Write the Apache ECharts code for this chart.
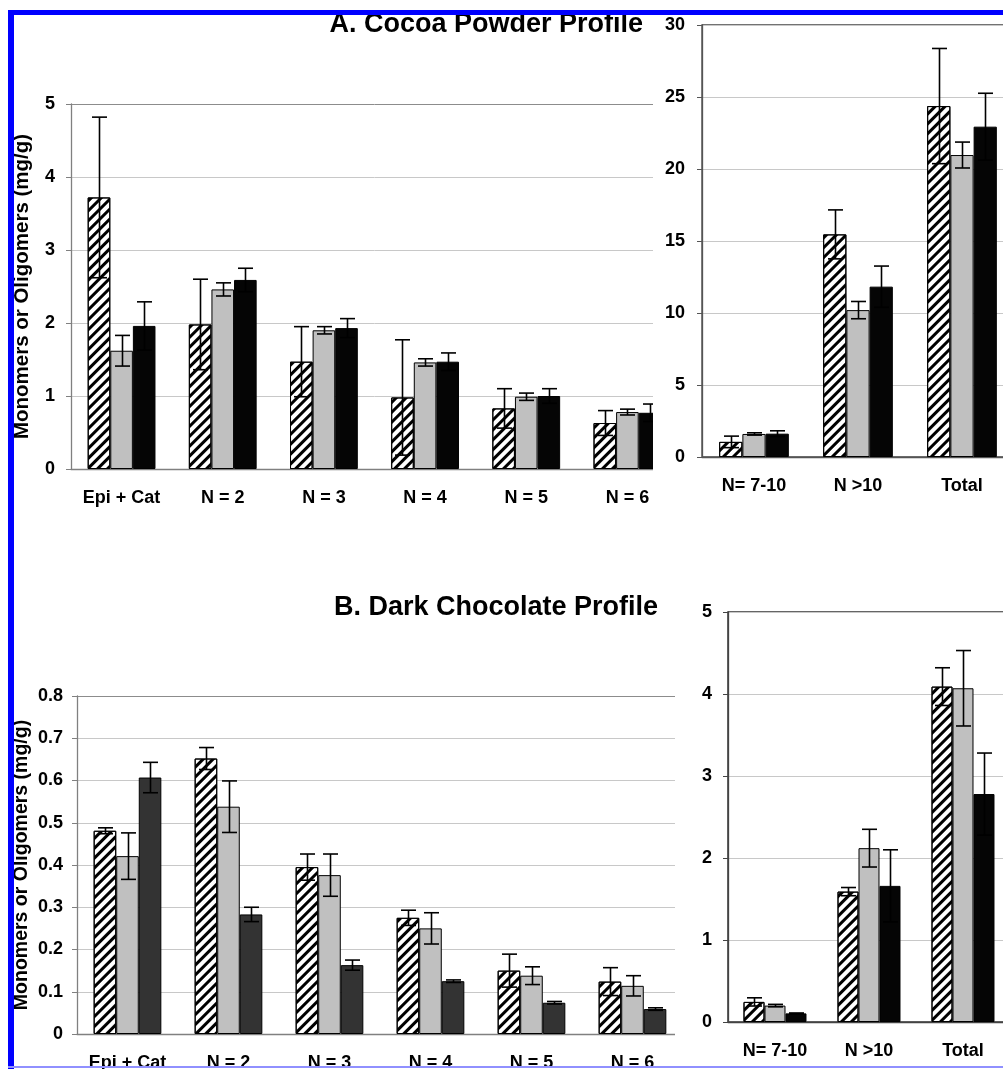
<!DOCTYPE html>
<html><head><meta charset="utf-8">
<script src="https://cdn.jsdelivr.net/npm/echarts@6/dist/echarts.min.js"></script>
<style>html,body{margin:0;padding:0;background:#fff}#c{width:1003px;height:1069px}</style>
</head><body><div id="c"></div><script>
// ---- categories ----
const catsMain = ['Epi + Cat', 'N = 2', 'N = 3', 'N = 4', 'N = 5', 'N = 6'];
const catsAgg = ['N= 7-10', 'N >10', 'Total'];
// ---- A. Cocoa powder, monomers to hexamers (mg/g) ----
const cocoaHatch = [3.72, 1.98, 1.47, 0.98, 0.83, 0.63];
const cocoaHatchErr = [1.10, 0.62, 0.48, 0.79, 0.27, 0.17];
const cocoaGray = [1.62, 2.46, 1.90, 1.46, 0.99, 0.78];
const cocoaGrayErr = [0.21, 0.09, 0.05, 0.05, 0.05, 0.04];
const cocoaBlack = [1.96, 2.59, 1.93, 1.47, 1.00, 0.77];
const cocoaBlackErr = [0.33, 0.16, 0.13, 0.12, 0.10, 0.12];
// ---- A. Cocoa powder, larger oligomers and total ----
const cocoaAggHatch = [1.05, 15.46, 24.37];
const cocoaAggHatchErr = [0.40, 1.70, 4.00];
const cocoaAggGray = [1.60, 10.20, 20.97];
const cocoaAggGrayErr = [0.08, 0.60, 0.90];
const cocoaAggBlack = [1.62, 11.83, 22.94];
const cocoaAggBlackErr = [0.20, 1.43, 2.32];
// ---- B. Dark chocolate, monomers to hexamers ----
const darkHatch = [0.481, 0.652, 0.395, 0.275, 0.150, 0.124];
const darkHatchErr = [0.007, 0.026, 0.031, 0.018, 0.039, 0.033];
const darkGray = [0.421, 0.538, 0.376, 0.250, 0.138, 0.114];
const darkGrayErr = [0.055, 0.061, 0.050, 0.037, 0.021, 0.024];
const darkBlack = [0.607, 0.283, 0.163, 0.125, 0.074, 0.059];
const darkBlackErr = [0.036, 0.017, 0.012, 0.003, 0.003, 0.003];
// ---- B. Dark chocolate, larger oligomers and total ----
const darkAggHatch = [0.245, 1.59, 4.09];
const darkAggHatchErr = [0.05, 0.05, 0.23];
const darkAggGray = [0.20, 2.12, 4.07];
const darkAggGrayErr = [0.015, 0.23, 0.46];
const darkAggBlack = [0.105, 1.66, 2.78];
const darkAggBlackErr = [0.005, 0.44, 0.50];
// ---- axis ticks ----
const yTicksA = {min: 0, max: 5, interval: 1};
const yTicksAR = {min: 0, max: 30, interval: 5};
const yTicksB = {min: 0, max: 0.8, interval: 0.1};
const yTicksBR = {min: 0, max: 5, interval: 1};
const yName = 'Monomers or Oligomers (mg/g)';

const FONT = '"Liberation Sans", Arial, sans-serif';
const GAP = 0.33;

const hatchStyle = {
  color: '#ffffff', borderColor: '#000', borderWidth: 1,
  decal: { symbol: 'rect', symbolSize: 1, color: '#000', dashArrayX: [1, 0], dashArrayY: [2.2, 3.8], rotation: -Math.PI / 4 }
};
const grayStyle = { color: '#c0c0c0', borderColor: '#000', borderWidth: 1 };
const blackStyle = { color: '#050505', borderColor: '#000', borderWidth: 1 };
const darkStyle = { color: '#333333', borderColor: '#000', borderWidth: 1 };

function errRender(params, api) {
  const cat = api.value(0), val = api.value(1), err = api.value(2), si = api.value(3);
  const catW = api.size([1, 0])[0];
  const bw = catW * (1 - GAP) / 3;
  const c = api.coord([cat, val]);
  const x = Math.round(c[0] + (si - 1) * bw) + 0.5;
  const yT = api.coord([cat, val + err])[1];
  const yB = api.coord([cat, val - err])[1];
  const cap = 7.5;
  const ls = { stroke: '#000', lineWidth: 1.6 };
  return { type: 'group', children: [
    { type: 'line', shape: { x1: x, y1: yT, x2: x, y2: yB }, style: ls },
    { type: 'line', shape: { x1: x - cap, y1: yT, x2: x + cap, y2: yT }, style: ls },
    { type: 'line', shape: { x1: x - cap, y1: yB, x2: x + cap, y2: yB }, style: ls }
  ]};
}

function panel(idx, zl, vals, errs, styles) {
  const s = [];
  vals.forEach((v, i) => {
    s.push({ type: 'bar', xAxisIndex: idx, yAxisIndex: idx, data: v, itemStyle: styles[i],
      barGap: '0%', barCategoryGap: (GAP * 100) + '%', zlevel: zl, z: 3, animation: false });
  });
  const ed = [];
  vals.forEach((v, i) => v.forEach((val, k) => ed.push([k, val, errs[i][k], i])));
  s.push({ type: 'custom', xAxisIndex: idx, yAxisIndex: idx, data: ed, renderItem: errRender,
    zlevel: zl, z: 4, clip: false, animation: false, silent: true });
  return s;
}

function xAx(idx, cats, zl, lineColor) {
  return { type: 'category', gridIndex: idx, data: cats, zlevel: zl, z: 1,
    axisLine: { lineStyle: { color: lineColor, width: 1.3 } },
    axisTick: { length: 6, lineStyle: { color: lineColor } },
    axisLabel: { margin: 20, color: '#000', fontSize: 18, fontWeight: 'bold', fontFamily: FONT, interval: 0 },
    splitLine: { show: false } };
}
function yAxis(idx, t, zl, lineColor, gridColor, labelMargin, name, nameGap, nameSize) {
  const o = { type: 'value', gridIndex: idx, min: t.min, max: t.max, interval: t.interval, zlevel: zl, z: 1,
    axisLine: { show: true, lineStyle: { color: lineColor, width: 1.3 } },
    axisTick: { show: true, length: 5, lineStyle: { color: lineColor } },
    axisLabel: { margin: labelMargin, color: '#000', fontSize: 18, fontWeight: 'bold', fontFamily: FONT },
    splitLine: { show: true, lineStyle: { color: gridColor, width: 1 } } };
  if (name) {
    o.name = name; o.nameLocation = 'middle'; o.nameGap = nameGap; o.nameMoveOverlap = false;
    o.nameTextStyle = { fontSize: nameSize, fontWeight: 'bold', color: '#000', fontFamily: FONT };
  }
  return o;
}

const L = '#c8c8c8', D = '#8c8c8c';
const chart = echarts.init(document.getElementById('c'), null, { renderer: 'canvas' });
const option = {
  backgroundColor: '#fff',
  animation: false,
  title: [
    { text: 'A. Cocoa Powder Profile', right: 360, top: 11, padding: 0,
      textStyle: { fontSize: 27, fontWeight: 'bold', color: '#000', fontFamily: FONT } },
    { text: 'B. Dark Chocolate Profile', right: 345, top: 594, padding: 0,
      textStyle: { fontSize: 27, fontWeight: 'bold', color: '#000', fontFamily: FONT } }
  ],
  grid: [
    { left: 71, top: 104, width: 607, height: 365, zlevel: 0, outerBoundsMode: 'none' },
    { left: 702, top: 25, width: 312, height: 432, zlevel: 1, show: true, borderColor: '#444', borderWidth: 1.3, backgroundColor: 'transparent', outerBoundsMode: 'none' },
    { left: 77, top: 696, width: 606, height: 338, zlevel: 0, outerBoundsMode: 'none' },
    { left: 728, top: 612, width: 282, height: 410, zlevel: 1, show: true, borderColor: '#333', borderWidth: 1.5, backgroundColor: 'transparent', outerBoundsMode: 'none' }
  ],
  xAxis: [
    xAx(0, catsMain, 0, '#808080'),
    xAx(1, catsAgg, 1, '#555'),
    xAx(2, catsMain, 0, '#808080'),
    xAx(3, catsAgg, 1, '#444')
  ],
  yAxis: [
    yAxis(0, yTicksA, 0, '#808080', [L, L, L, L, L, D], 16, yName, 38, 20.5),
    yAxis(1, yTicksAR, 1, '#555', L, 17),
    yAxis(2, yTicksB, 0, '#808080', [L, L, L, L, L, L, L, L, D], 14, yName, 45, 19.5),
    yAxis(3, yTicksBR, 1, '#444', L, 16)
  ],
  graphic: { elements: [
    { type: 'rect', zlevel: 1, z: -5, shape: { x: 653, y: 15, width: 360, height: 462 }, style: { fill: '#fff' }, silent: true },
    { type: 'rect', zlevel: 1, z: -5, shape: { x: 675, y: 585, width: 330, height: 460 }, style: { fill: '#fff' }, silent: true },
    { type: 'rect', zlevel: 2, shape: { x: 8, y: 10, width: 1000, height: 5 }, style: { fill: '#0000ff' }, silent: true },
    { type: 'rect', zlevel: 2, shape: { x: 8, y: 10, width: 6, height: 1059 }, style: { fill: '#0000ff' }, silent: true },
    { type: 'rect', zlevel: 2, shape: { x: 8, y: 1066, width: 1000, height: 2 }, style: { fill: '#9090ff' }, silent: true }
  ]},
  series: [].concat(
    panel(0, 0, [cocoaHatch, cocoaGray, cocoaBlack], [cocoaHatchErr, cocoaGrayErr, cocoaBlackErr], [hatchStyle, grayStyle, blackStyle]),
    panel(1, 1, [cocoaAggHatch, cocoaAggGray, cocoaAggBlack], [cocoaAggHatchErr, cocoaAggGrayErr, cocoaAggBlackErr], [hatchStyle, grayStyle, blackStyle]),
    panel(2, 0, [darkHatch, darkGray, darkBlack], [darkHatchErr, darkGrayErr, darkBlackErr], [hatchStyle, grayStyle, darkStyle]),
    panel(3, 1, [darkAggHatch, darkAggGray, darkAggBlack], [darkAggHatchErr, darkAggGrayErr, darkAggBlackErr], [hatchStyle, grayStyle, blackStyle])
  )
};
chart.setOption(option);
</script></body></html>
